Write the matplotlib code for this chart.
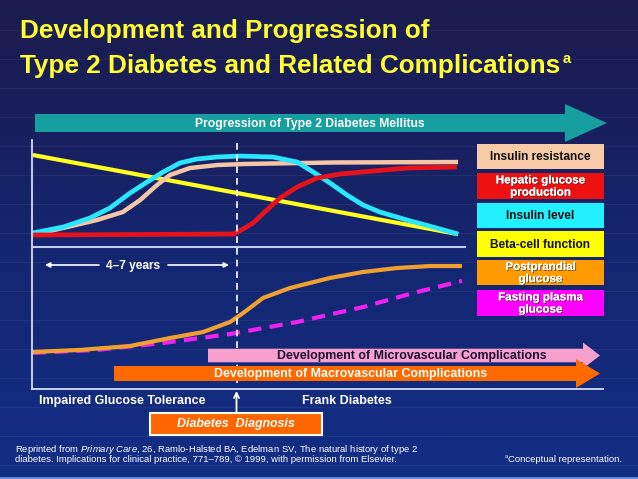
import numpy as np
import matplotlib
matplotlib.use("Agg")
import matplotlib.pyplot as plt
from matplotlib import font_manager as fm
from matplotlib.patches import Polygon, Rectangle
import matplotlib.patheffects as pe

# ---------------- data ----------------
# x: conceptual time (0..100 = span of the curves), y: relative level (0..100)
beta_x = [0.2, 98.5]
beta_y = [86.0, 12.0]

insulin_x = [0.2, 7.2, 13.4, 18.0, 22.7, 26.6, 30.3, 34.2, 38.1, 42.8, 48.1,
             55.7, 61.3, 65.0, 68.9, 72.8, 76.5, 80.4, 86.7, 92.7, 98.5]
insulin_y = [13.1, 18.7, 27.1, 36.4, 50.5, 60.7, 70.1, 78.5, 82.2, 84.1, 85.0,
             84.1, 79.4, 70.1, 59.8, 48.6, 39.3, 32.7, 25.2, 18.7, 12.1]

resist_x = [0.2, 7.2, 15.0, 21.0, 25.0, 28.9, 31.9, 36.5, 42.8, 49.2, 70.0, 98.5]
resist_y = [11.2, 17.8, 25.2, 32.7, 43.9, 57.9, 67.3, 73.8, 76.6, 77.6, 79.0, 79.4]

hepatic_x = [0.2, 46.5, 48.8, 51.1, 54.3, 57.3, 61.3, 65.9, 71.2, 78.8, 86.7, 98.2]
hepatic_y = [11.2, 12.1, 16.8, 22.4, 34.6, 45.8, 56.1, 64.5, 68.2, 71.0, 73.8, 74.8]

postprandial_x = [0.2, 11.1, 22.7, 31.9, 39.5, 45.8, 48.8, 53.4, 59.6, 68.9,
                  76.5, 84.4, 92.0, 99.4]
postprandial_y = [26.1, 27.5, 30.3, 35.9, 40.1, 47.2, 53.5, 64.1, 71.1, 78.2,
                  82.4, 85.2, 86.6, 86.6]

fasting_x = [0.2, 15.0, 30.3, 45.8, 61.3, 76.5, 88.1, 99.4]
fasting_y = [25.4, 27.5, 32.4, 38.7, 47.2, 57.7, 67.6, 76.1]

legend_labels = ["Insulin resistance", "Hepatic glucose\nproduction", "Insulin level",
                 "Beta-cell function", "Postprandial\nglucose", "Fasting plasma\nglucose"]
legend_colors = ["#F8CBA8", "#EE1111", "#22F0FF", "#FFFF00", "#FF9A00", "#FF00FF"]
legend_text_colors = ["#111111", "white", "#111111", "#111111", "white", "white"]

curve_colors = {"resist": "#F5C6A5", "hepatic": "#E8121C", "insulin": "#2AE6FF",
                "beta": "#FFFF20", "post": "#F0A030", "fast": "#EE22EE"}

title_line1 = "Development and Progression of"
title_line2 = "Type 2 Diabetes and Related Complications"
progression_label = "Progression of Type 2 Diabetes Mellitus"
micro_label = "Development of Microvascular Complications"
macro_label = "Development of Macrovascular Complications"
igt_label = "Impaired Glucose Tolerance"
frank_label = "Frank Diabetes"
diag_label = "Diabetes  Diagnosis"
years_label = "4\u20137 years"

# ---------------- fonts ----------------
names = {f.name for f in fm.fontManager.ttflist}
BASE = "Liberation Sans" if "Liberation Sans" in names else "DejaVu Sans"
plt.rcParams["font.family"] = [BASE, "DejaVu Sans"]
plt.rcParams["mathtext.fontset"] = "custom"
plt.rcParams["mathtext.it"] = BASE + ":italic"
plt.rcParams["mathtext.rm"] = BASE

W, H = 638, 479
fig = plt.figure(figsize=(W / 100, H / 100), dpi=100)

# ---------------- background ----------------
ax_bg = fig.add_axes([0, 0, 1, 1], zorder=0)
stops_y = [0, 110, 250, 479]
stops_c = [(0.11, 0.11, 0.30), (0.10, 0.12, 0.36), (0.08, 0.15, 0.44), (0.07, 0.18, 0.52)]
yy = np.arange(H)
grad = np.zeros((H, 1, 3))
for k in range(3):
    grad[:, 0, k] = np.interp(yy, stops_y, [c[k] for c in stops_c])
ax_bg.imshow(grad, aspect="auto", extent=(0, W, H, 0))
ax_bg.set_xlim(0, W)
ax_bg.set_ylim(H, 0)
for ys in np.arange(30, H - 5, 29):
    ax_bg.axhline(ys, color="white", alpha=0.05, lw=0.8)
ax_bg.axhline(477.5, color="#6A8FE0", lw=2)
ax_bg.axis("off")

# ---------------- data axes ----------------
ax_up = fig.add_axes([32 / W, (H - 247) / H, 571 / W, 107 / H], zorder=1)
ax_lo = fig.add_axes([32 / W, (H - 389) / H, 571 / W, 142 / H], zorder=1)
for a in (ax_up, ax_lo):
    a.set_xlim(0, 132)
    a.set_ylim(0, 100)
    a.axis("off")
    a.patch.set_alpha(0)

ax_up.plot(beta_x, beta_y, color=curve_colors["beta"], lw=3.0, solid_capstyle="butt",
           solid_joinstyle="round", clip_on=False)
ax_up.plot(resist_x, resist_y, color=curve_colors["resist"], lw=3.2, solid_capstyle="butt",
           solid_joinstyle="round", clip_on=False)
ax_up.plot(insulin_x, insulin_y, color=curve_colors["insulin"], lw=3.4, solid_capstyle="butt",
           solid_joinstyle="round", clip_on=False)
ax_up.plot(hepatic_x, hepatic_y, color=curve_colors["hepatic"], lw=3.4, solid_capstyle="butt",
           solid_joinstyle="round", clip_on=False)

ax_lo.plot(fasting_x, fasting_y, color=curve_colors["fast"], lw=3.0, dashes=(3.2, 2.0),
           dash_capstyle="butt", clip_on=False)
ax_lo.plot(postprandial_x, postprandial_y, color=curve_colors["post"], lw=3.0,
           solid_capstyle="butt", solid_joinstyle="round", clip_on=False)

# ---------------- overlay (pixel coordinates) ----------------
ax = fig.add_axes([0, 0, 1, 1], zorder=2)
ax.set_xlim(0, W)
ax.set_ylim(H, 0)
ax.axis("off")
ax.patch.set_alpha(0)
renderer = fig.canvas.get_renderer()

# title
ax.text(20, 31, title_line1, weight="bold", fontsize=18.8,
        color="#FFFF33", va="center", ha="left")
t2 = ax.text(20, 66, title_line2, weight="bold", fontsize=18.8,
             color="#FFFF33", va="center", ha="left")
bb = t2.get_window_extent(renderer)
ax.text(bb.x1 + 2, 59, "a", weight="bold", fontsize=10.5,
        color="#FFFF33", va="center", ha="left")


def arrow(x0, x1, xt, yc, bh, hh, color):
    pts = [(x0, yc - bh), (x1, yc - bh), (x1, yc - hh), (xt, yc), (x1, yc + hh),
           (x1, yc + bh), (x0, yc + bh)]
    ax.add_patch(Polygon(pts, closed=True, facecolor=color, edgecolor="none", zorder=3))


# progression arrow
arrow(35, 565, 607, 123, 9, 19, "#179E9E")
ax.text(310, 123.5, progression_label, color="white", weight="bold", fontsize=8.7,
        ha="center", va="center", zorder=4)

# axes lines
ax.plot([32, 32], [140, 389], color="#D8DCF8", lw=1.3, zorder=2)
ax.plot([32, 603], [389, 389], color="#D8DCF8", lw=1.3, zorder=2)
ax.plot([32, 465], [247, 247], color="#C4CAF2", lw=1.5, zorder=2)

# dashed diagnosis line
ax.plot([236.5, 236.5], [143, 388], color="white", lw=1.2, dashes=(4, 3), zorder=2)
ax.annotate("", xy=(236.5, 391), xytext=(236.5, 413),
            arrowprops=dict(arrowstyle="->", color="white", lw=1.3,
                            mutation_scale=9, shrinkA=0, shrinkB=0), zorder=2)

# 4-7 years
ax.annotate("", xy=(45, 265), xytext=(99, 265),
            arrowprops=dict(arrowstyle="-|>", color="white", lw=1.2, mutation_scale=7,
                            shrinkA=0, shrinkB=0))
ax.annotate("", xy=(229, 265), xytext=(168, 265),
            arrowprops=dict(arrowstyle="-|>", color="white", lw=1.2, mutation_scale=7,
                            shrinkA=0, shrinkB=0))
ax.text(133.5, 266.5, years_label, color="white", weight="bold", fontsize=8.6,
        ha="center", va="center")

# complication arrows
arrow(208, 583, 600, 355.5, 6.8, 13, "#F7A0CE")
ax.text(412, 356, micro_label, color="#1A1035", weight="bold", fontsize=8.9,
        ha="center", va="center", zorder=4)
arrow(114, 576, 600, 373.5, 7.5, 14.5, "#FF6A00")
ax.text(351, 374, macro_label, color="white", weight="bold", fontsize=8.9,
        ha="center", va="center", zorder=4)

# x labels
ax.text(39, 401, igt_label, color="white", weight="bold", fontsize=9.0, ha="left", va="center")
ax.text(302, 401, frank_label, color="white", weight="bold", fontsize=9.0, ha="left", va="center")

# diagnosis box
ax.add_patch(Rectangle((150, 413), 172, 22, facecolor="#FF6600", edgecolor="white",
                       lw=1.5, zorder=3))
ax.text(236, 424.5, diag_label, color="white", style="italic", weight="bold",
        fontsize=8.9, ha="center", va="center", zorder=4)

# legend boxes
box_y = [144, 173, 203, 231, 260, 290]
box_h = [25, 26, 25, 26, 25, 26]
for lab, fc, tc, y0, h in zip(legend_labels, legend_colors, legend_text_colors, box_y, box_h):
    ax.add_patch(Rectangle((477, y0), 127, h, facecolor=fc, edgecolor="none", zorder=3))
    kw = {}
    if tc == "white":
        kw["path_effects"] = [pe.withSimplePatchShadow(offset=(0.7, -0.7),
                                                      shadow_rgbFace="#333333", alpha=0.7),
                              pe.Normal()]
    two = "\n" in lab
    ax.text(540.5, y0 + h / 2 + 0.5, lab, color=tc, weight="bold",
            fontsize=8.4 if two else 8.6,
            ha="center", va="center", linespacing=1.02, zorder=4, **kw)

# footnotes
ax.text(15, 450, r"Reprinted from $\mathit{Primary\ Care}$, 26, Ramlo-Halsted BA, "
        r"Edelman SV, The natural history of type 2",
        color="white", fontsize=6.8, ha="left", va="center")
ax.text(15, 459.5, "diabetes. Implications for clinical practice, 771\u2013789, \u00a9 1999, "
        "with permission from Elsevier.",
        color="white", fontsize=6.8, ha="left", va="center")
tc_ = ax.text(622, 459.5, "Conceptual representation.", color="white",
              fontsize=6.8, ha="right", va="center")
bbc = tc_.get_window_extent(renderer)
ax.text(bbc.x0 - 0.5, 456.5, "a", color="white", fontsize=4.0,
        ha="right", va="center")

fig.savefig("out.png", dpi=100)
